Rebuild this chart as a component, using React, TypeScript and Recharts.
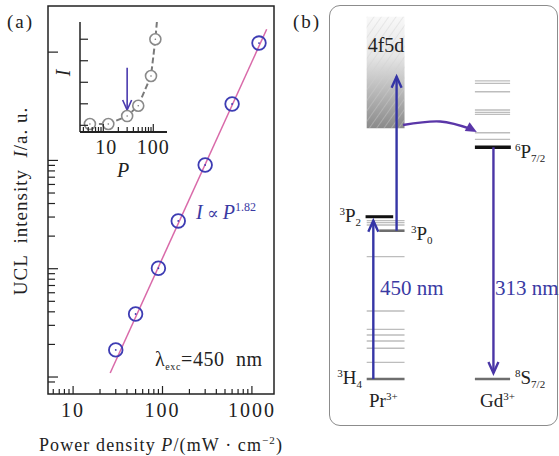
import React from 'react';
import {
  ComposedChart,
  Scatter,
  Line,
  XAxis,
  YAxis,
  ReferenceArea,
  ReferenceLine,
} from 'recharts';

// (a) UCL intensity vs power density, log-log
const powerDensity = [30, 50, 90, 150, 300, 600, 1200];
const uclIntensity = [1.78, 3.82, 10.1, 27.6, 90.7, 332, 1213];
const fitPower = [26, 1463];
const fitIntensity = [1.09, 1624];
const xMajorTicks = [10, 100, 1000];
const xMinorTicks = [6, 7, 8, 9, 20, 30, 40, 50, 60, 70, 80, 90, 200, 300, 400, 500, 600, 700, 800, 900];
const yMajorTicks = [1, 10, 100, 1000];
const yMinorTicks = [0.9, 2, 3, 4, 5, 6, 7, 8, 9, 20, 30, 40, 50, 60, 70, 80, 90];

// inset: linear intensity vs log power
const insetPower = [5.4, 12.6, 30, 50, 90, 110];
const insetIntensity = [0.06, 0.06, 0.43, 0.91, 2.29, 4.0];
const insetTrendPower = [5.4, 12.6, 30, 50, 90, 110, 118];
const insetTrendIntensity = [0.06, 0.06, 0.43, 0.91, 2.29, 4.0, 4.8];
const insetXMajor = [10, 100];
const insetXMinor = [4, 5, 6, 7, 8, 9, 20, 30, 40, 50, 60, 70, 80, 90];
const insetYTicks = [0, 1, 2, 3, 4];
const insetArrowPower = 30;
const insetArrowFrom = 2.67;
const insetArrowTo = 0.71;

// (b) energy levels, 10^3 cm^-1
const prThinLevels = [2.34, 4.31, 5.33, 6.17, 6.97, 9.54, 17.15, 21.6, 21.92, 22.2];
const gdThinLevels = [33.6, 34.54, 37.12, 37.4, 37.73, 40.29, 41.47, 41.8];
const pr3H4 = 0;
const pr3P0 = 20.8;
const pr3P2 = 22.76;
const gd8S = 0;
const gd6P = 32.5;
const band4f5d = [35.16, 50.8];
const pump450Top = 22.2;
const esaTop = 42.4;
const gdEmitBottom = 0.84;
const transferCurve = [
  { x: 1.93, e: 35.62 },
  { x: 2.91, e: 36.12 },
  { x: 3.76, e: 35.0 },
];
const transferHead = [
  { x: 3.76, e: 35.0 },
  { x: 3.88, e: 34.65 },
];

const SERIF = '"Liberation Serif", "DejaVu Serif", serif';
const INK = '#222';
const BLUE = '#3a3aa3';
const PURPLE = '#5a36a8';

const mainData = powerDensity.map((p, k) => ({ p, i: uclIntensity[k] }));
const fitData = fitPower.map((p, k) => ({ p, i: fitIntensity[k] }));
const insetData = insetPower.map((p, k) => ({ p, i: insetIntensity[k] }));
const insetTrend = insetTrendPower.map((p, k) => ({ p, i: insetTrendIntensity[k] }));

const MainXTick = (props: any) => {
  const { x, y, payload } = props;
  const major = xMajorTicks.includes(payload.value);
  return (
    <g>
      <line x1={x} x2={x} y1={y} y2={y - (major ? 8 : 5)} stroke={INK} strokeWidth={1.2} />
      {major && (
        <text x={x} y={y + 23} textAnchor="middle" fontSize={20} letterSpacing={2} style={{ fontFamily: SERIF }} fill={INK}>
          {payload.value}
        </text>
      )}
    </g>
  );
};

const MainYTick = (props: any) => {
  const { x, y, payload } = props;
  const major = yMajorTicks.includes(payload.value);
  return <line x1={x} x2={x + (major ? 10 : 7)} y1={y} y2={y} stroke={INK} strokeWidth={1.2} />;
};

const InsetXTick = (props: any) => {
  const { x, y, payload } = props;
  const major = insetXMajor.includes(payload.value);
  return (
    <g>
      <line x1={x} x2={x} y1={y} y2={y - (major ? 8 : 5)} stroke={INK} strokeWidth={1.2} />
      {major && (
        <text x={x + (major && payload.value === 10 ? 3 : 0)} y={y + 22} textAnchor="middle" fontSize={20} letterSpacing={1} style={{ fontFamily: SERIF }} fill={INK}>
          {payload.value}
        </text>
      )}
    </g>
  );
};

const InsetYTick = (props: any) => {
  const { x, y } = props;
  return <line x1={x} x2={x + 8} y1={y} y2={y} stroke={INK} strokeWidth={1.2} />;
};

const OpenCircle = (props: any) => {
  const { cx, cy } = props;
  return (
    <g>
      <circle cx={cx} cy={cy} r={6.8} fill="none" stroke="#3d3cb3" strokeWidth={1.8} />
      <circle cx={cx} cy={cy} r={0.9} fill="#3d3cb3" />
    </g>
  );
};

const GrayCircle = (props: any) => {
  const { cx, cy } = props;
  return (
    <g>
      <circle cx={cx} cy={cy} r={5.5} fill="#fff" stroke="#8a8a8a" strokeWidth={1.6} />
      <circle cx={cx} cy={cy} r={0.8} fill="#777" />
    </g>
  );
};

const Arrow = (props: any) => {
  const { x1, y1, x2, y2, color, filled, w = 2.4, hl = 11, hw = 5 } = props;
  const dx = x2 - x1;
  const dy = y2 - y1;
  const len = Math.hypot(dx, dy) || 1;
  const ux = dx / len;
  const uy = dy / len;
  const px = -uy;
  const py = ux;
  const bx = x2 - ux * hl;
  const by = y2 - uy * hl;
  if (filled) {
    return (
      <polygon
        points={`${x2},${y2} ${bx + px * hw},${by + py * hw} ${bx - px * hw},${by - py * hw}`}
        fill={color}
      />
    );
  }
  return (
    <g>
      <line x1={x1} y1={y1} x2={x2} y2={y2} stroke={color} strokeWidth={w} />
      <polyline
        points={`${bx + px * hw},${by + py * hw} ${x2},${y2} ${bx - px * hw},${by - py * hw}`}
        fill="none"
        stroke={color}
        strokeWidth={w}
      />
    </g>
  );
};

const level = (key: string, x1: number, x2: number, e: number, stroke: string, width: number) => (
  <ReferenceLine
    key={key}
    segment={[{ x: x1, y: e }, { x: x2, y: e }]}
    stroke={stroke}
    strokeWidth={width}
  />
);

function MainPlot() {
  return (
    <ComposedChart width={290} height={456} margin={{ top: 6, right: 16, bottom: 61, left: 47 }}>
      <XAxis
        type="number"
        dataKey="p"
        scale="log"
        domain={[5.24, 1766]}
        allowDataOverflow
        ticks={[...xMinorTicks, ...xMajorTicks]}
        interval={0}
        height={1}
        tickSize={0}
        tickMargin={0}
        axisLine={false}
        tickLine={false}
        tick={<MainXTick />}
      />
      <YAxis
        type="number"
        dataKey="i"
        scale="log"
        domain={[0.697, 2666]}
        allowDataOverflow
        ticks={[...yMinorTicks, ...yMajorTicks]}
        interval={0}
        width={1}
        tickSize={0}
        tickMargin={0}
        axisLine={false}
        tickLine={false}
        tick={<MainYTick />}
      />
      <ReferenceArea x1={5.24} x2={1766} y1={0.697} y2={2666} fill="none" stroke={INK} strokeWidth={1.5} />
      <Line data={fitData} dataKey="i" stroke="#d96aa9" strokeWidth={1.5} dot={false} isAnimationActive={false} />
      <Scatter data={mainData} shape={<OpenCircle />} isAnimationActive={false} />
    </ComposedChart>
  );
}

function InsetPlot() {
  return (
    <ComposedChart width={175} height={185} margin={{ top: 22, right: 8, bottom: 52, left: 79 }}>
      <XAxis
        type="number"
        dataKey="p"
        scale="log"
        domain={[3.42, 188]}
        allowDataOverflow
        ticks={[...insetXMinor, ...insetXMajor]}
        interval={0}
        height={1}
        tickSize={0}
        tickMargin={0}
        axisLine={{ stroke: INK, strokeWidth: 2.2 }}
        tickLine={false}
        tick={<InsetXTick />}
      />
      <YAxis
        type="number"
        dataKey="i"
        domain={[-0.31, 4.8]}
        allowDataOverflow
        ticks={insetYTicks}
        interval={0}
        width={1}
        tickSize={0}
        tickMargin={0}
        axisLine={{ stroke: INK, strokeWidth: 1.5 }}
        tickLine={false}
        tick={<InsetYTick />}
      />
      <Line
        data={insetTrend}
        dataKey="i"
        stroke="#7a7a7a"
        strokeWidth={2}
        strokeDasharray="6 3"
        dot={false}
        isAnimationActive={false}
      />
      <Scatter data={insetData} shape={<GrayCircle />} isAnimationActive={false} />
      <ReferenceLine
        segment={[{ x: insetArrowPower, y: insetArrowFrom }, { x: insetArrowPower, y: insetArrowTo }]}
        shape={(p: any) => <Arrow x1={p.x1} y1={p.y1} x2={p.x2} y2={p.y2} color="#4a3aae" w={1.6} hl={10} hw={4.5} />}
      />
    </ComposedChart>
  );
}

function LevelDiagram() {
  return (
    <ComposedChart width={269} height={456} margin={{ top: 8.24, right: 2, bottom: 77, left: 40 }}>
      <defs>
        <linearGradient id="bandFill" x1="0" y1="0" x2="0" y2="1">
          <stop offset="0" stopColor="#f8f8f8" />
          <stop offset="0.35" stopColor="#e6e6e6" />
          <stop offset="1" stopColor="#8a8a8a" />
        </linearGradient>
        <pattern id="hatch" width="6" height="6" patternUnits="userSpaceOnUse" patternTransform="rotate(35)">
          <line x1="0" y1="0" x2="0" y2="6" stroke="#cfcfcf" strokeWidth="0.8" />
        </pattern>
      </defs>
      <XAxis type="number" dataKey="x" domain={[0, 6]} hide allowDataOverflow />
      <YAxis type="number" dataKey="e" domain={[0, 52]} hide allowDataOverflow />
      <ReferenceArea x1={0.97} x2={1.97} y1={band4f5d[0]} y2={band4f5d[1]} fill="url(#bandFill)" fillOpacity={1} stroke="none" />
      <ReferenceArea x1={0.97} x2={1.97} y1={band4f5d[0]} y2={band4f5d[1]} fill="url(#hatch)" fillOpacity={1} stroke="none" />
      {prThinLevels.map((e, k) => level(`pr${k}`, 0.97, 1.97, e, '#bdbdbd', 1.3))}
      {gdThinLevels.map((e, k) => level(`gd${k}`, 3.83, 4.76, e, '#bdbdbd', 1.3))}
      {level('h4', 0.97, 1.97, pr3H4, '#6e6e6e', 2.6)}
      {level('p0', 1.3, 1.97, pr3P0, '#6e6e6e', 2.6)}
      {level('p2', 0.94, 1.67, pr3P2, '#111', 3)}
      {level('s72', 3.83, 4.76, gd8S, '#6e6e6e', 2.6)}
      {level('p72', 3.83, 4.78, gd6P, '#111', 3.4)}
      <ReferenceLine
        segment={[{ x: 1.145, y: pr3H4 }, { x: 1.145, y: pump450Top }]}
        shape={(p: any) => <Arrow x1={p.x1} y1={p.y1} x2={p.x2} y2={p.y2} color="#3535a6" />}
      />
      <ReferenceLine
        segment={[{ x: 1.76, y: pr3P0 }, { x: 1.76, y: esaTop }]}
        shape={(p: any) => <Arrow x1={p.x1} y1={p.y1} x2={p.x2} y2={p.y2} color="#3535a6" />}
      />
      <ReferenceLine
        segment={[{ x: 4.32, y: gd6P }, { x: 4.32, y: gdEmitBottom }]}
        shape={(p: any) => <Arrow x1={p.x1} y1={p.y1} x2={p.x2} y2={p.y2} color="#4a36a6" />}
      />
      <Line
        data={transferCurve}
        dataKey="e"
        type="natural"
        stroke={PURPLE}
        strokeWidth={2.4}
        dot={false}
        isAnimationActive={false}
      />
      <ReferenceLine
        segment={[{ x: transferHead[0].x, y: transferHead[0].e }, { x: transferHead[1].x, y: transferHead[1].e }]}
        shape={(p: any) => <Arrow x1={p.x1} y1={p.y1} x2={p.x2} y2={p.y2} color={PURPLE} filled hl={11} hw={5} />}
      />
    </ComposedChart>
  );
}

function Labels() {
  return (
    <svg
      width={559}
      height={456}
      style={{ position: 'absolute', left: 0, top: 0, pointerEvents: 'none', fontFamily: SERIF }}
    >
      <text x={7} y={28} fontSize={19} letterSpacing={2} fill={INK}>(a)</text>
      <text x={293} y={28} fontSize={19} letterSpacing={2} fill={INK}>(b)</text>

      <text
        transform="translate(27,201) rotate(-90)"
        textAnchor="middle"
        fontSize={19}
        letterSpacing={1}
        fill={INK}
        style={{ whiteSpace: 'pre' }}
      >
        {'UCL  intensity  '}<tspan fontStyle="italic">I</tspan>{'/a. u.'}
      </text>
      <text x={161} y={451} textAnchor="middle" fontSize={18} letterSpacing={1.1} fill={INK} style={{ whiteSpace: 'pre' }}>
        {'Power density '}<tspan fontStyle="italic">P</tspan>{'/(mW \u00b7 cm'}
        <tspan dy={-7} fontSize={11}>{'\u22122'}</tspan>
        <tspan dy={7}>)</tspan>
      </text>

      <text x={196} y={219} fontSize={20} fill={BLUE} style={{ whiteSpace: 'pre' }}>
        <tspan fontStyle="italic">I</tspan>
        <tspan fontSize={17}>{' \u221d '}</tspan>
        <tspan fontStyle="italic">P</tspan>
        <tspan dy={-8} fontSize={12}>1.82</tspan>
      </text>
      <text x={155} y={366} fontSize={20} letterSpacing={0.6} fill={INK} style={{ whiteSpace: 'pre' }}>
        {'\u03bb'}
        <tspan dy={4} fontSize={10}>exc</tspan>
        <tspan dy={-4}>{'=450  nm'}</tspan>
      </text>

      <text x={123} y={177} textAnchor="middle" fontSize={20} fontStyle="italic" fill={INK}>P</text>
      <text transform="translate(70,73) rotate(-90)" textAnchor="middle" fontSize={20} fontStyle="italic" fill={INK}>I</text>

      <text x={386} y={52} textAnchor="middle" fontSize={20} fill={INK}>4f5d</text>
      <text x={361} y={222} textAnchor="end" fontSize={19} fill={INK}>
        <tspan dy={-7} fontSize={11}>3</tspan>
        <tspan dy={7}>P</tspan>
        <tspan dy={4} fontSize={11}>2</tspan>
      </text>
      <text x={411} y={240} fontSize={19} fill={INK}>
        <tspan dy={-7} fontSize={11}>3</tspan>
        <tspan dy={7}>P</tspan>
        <tspan dy={4} fontSize={11}>0</tspan>
      </text>
      <text x={362} y={384} textAnchor="end" fontSize={19} fill={INK}>
        <tspan dy={-7} fontSize={11}>3</tspan>
        <tspan dy={7}>H</tspan>
        <tspan dy={4} fontSize={11}>4</tspan>
      </text>
      <text x={369} y={407} fontSize={19} fill={INK}>
        Pr<tspan dy={-7} fontSize={11}>3+</tspan>
      </text>
      <text x={515} y={158} fontSize={19} fill={INK}>
        <tspan dy={-7} fontSize={11}>6</tspan>
        <tspan dy={7}>P</tspan>
        <tspan dy={4} fontSize={11}>7/2</tspan>
      </text>
      <text x={515} y={384} fontSize={19} fill={INK}>
        <tspan dy={-7} fontSize={11}>8</tspan>
        <tspan dy={7}>S</tspan>
        <tspan dy={4} fontSize={11}>7/2</tspan>
      </text>
      <text x={480} y={407} fontSize={19} fill={INK}>
        Gd<tspan dy={-7} fontSize={11}>3+</tspan>
      </text>
      <text x={380} y={295} fontSize={21} fill={BLUE} style={{ whiteSpace: 'pre' }}>450 nm</text>
      <text x={495} y={295} fontSize={21} fill={BLUE} style={{ whiteSpace: 'pre' }}>313 nm</text>
    </svg>
  );
}

export default function App() {
  return (
    <div
      style={{
        position: 'fixed',
        left: 0,
        top: 0,
        width: 559,
        height: 456,
        background: '#fff',
        overflow: 'hidden',
        fontFamily: SERIF,
      }}
    >
      <div
        style={{
          position: 'absolute',
          left: 329,
          top: 5,
          width: 229,
          height: 421,
          border: '1.5px solid #8c8c8c',
          borderRadius: 11,
          boxSizing: 'border-box',
        }}
      />
      <div style={{ position: 'absolute', left: 0, top: 0 }}>
        <MainPlot />
      </div>
      <div style={{ position: 'absolute', left: 0, top: 0 }}>
        <InsetPlot />
      </div>
      <div style={{ position: 'absolute', left: 290, top: 0 }}>
        <LevelDiagram />
      </div>
      <Labels />
    </div>
  );
}
